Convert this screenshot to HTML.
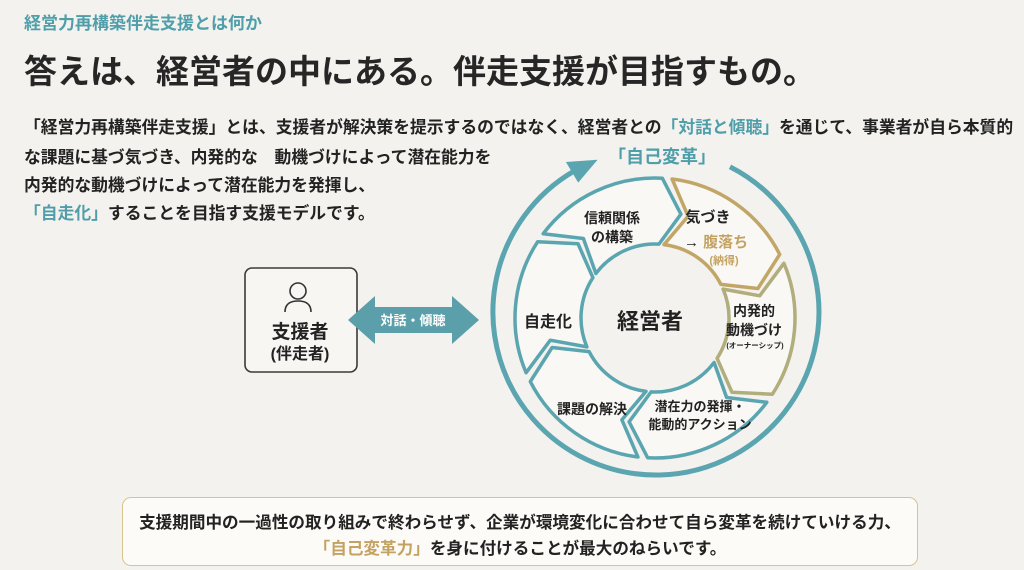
<!DOCTYPE html>
<html><head><meta charset="utf-8">
<style>
html,body{margin:0;padding:0}
body{width:1024px;height:570px;background:#f3f2ee;position:relative;overflow:hidden;font-family:"Liberation Sans","Noto Sans CJK JP",sans-serif;color:#222}
.t{position:absolute;white-space:nowrap;font-weight:bold}
.teal{color:#4f9eaa}
.gold{color:#c4a262}
</style></head><body>
<div class="t teal" style="left:24px;top:9px;font-size:17px">経営力再構築伴走支援とは何か</div>
<div class="t" style="left:24px;top:45px;font-size:33px;color:#262626">答えは、経営者の中にある。伴走支援が目指すもの。</div>
<div class="t" style="left:24px;top:114px;font-size:16.8px">「経営力再構築伴走支援」とは、支援者が解決策を提示するのではなく、経営者との<span class="teal">「対話と傾聴」</span>を通じて、事業者が自ら本質的</div>
<div class="t" style="left:24px;top:144px;font-size:16.8px">な課題に基づ気づき、内発的な　動機づけによって潜在能力を</div>
<div class="t" style="left:24px;top:172px;font-size:16.8px">内発的な動機づけによって潜在能力を発揮し、</div>
<div class="t" style="left:24px;top:200px;font-size:16.8px"><span class="teal">「自走化」</span>することを目指す支援モデルです。</div>

<svg width="1024" height="570" style="position:absolute;left:0;top:0" xmlns="http://www.w3.org/2000/svg">
<rect x="245" y="268" width="112" height="104" rx="7" fill="#f7f6f3" stroke="#3a3a3a" stroke-width="1.6"/>
<circle cx="298" cy="291" r="8" fill="none" stroke="#333" stroke-width="1.6"/>
<path d="M285 312 Q285 301 298 301 Q311 301 311 312" fill="none" stroke="#333" stroke-width="1.6"/>
<text x="300" y="338" text-anchor="middle" font-size="19" font-weight="bold" fill="#222">支援者</text>
<text x="300" y="359" text-anchor="middle" font-size="16" font-weight="bold" fill="#222">(伴走者)</text>
<polygon points="348,320 375,296 375,307 452,307 452,296 479,320 452,344 452,333 375,333 375,344" fill="#5a9fa9"/>
<text x="413" y="325" text-anchor="middle" font-size="13" font-weight="bold" fill="#fff">対話・傾聴</text>
<g id="ring"></g>
<text x="662" y="163" text-anchor="middle" font-size="18" font-weight="bold" fill="#4f9eaa">「自己変革」</text>
<text x="650" y="329" text-anchor="middle" font-size="22" font-weight="bold" fill="#222">経営者</text>
<text x="612" y="223" text-anchor="middle" font-size="14" font-weight="bold" fill="#222">信頼関係</text>
<text x="612" y="242" text-anchor="middle" font-size="14" font-weight="bold" fill="#222">の構築</text>
<text x="708" y="222" text-anchor="middle" font-size="15" font-weight="bold" fill="#222">気づき</text>
<text x="684" y="247" font-size="15" font-weight="bold" fill="#222">→ <tspan fill="#c4a262">腹落ち</tspan></text>
<text x="724" y="264" text-anchor="middle" font-size="11" font-weight="bold" fill="#c4a262">(納得)</text>
<text x="548" y="327" text-anchor="middle" font-size="16" font-weight="bold" fill="#222">自走化</text>
<text x="754" y="316" text-anchor="middle" font-size="14" font-weight="bold" fill="#222">内発的</text>
<text x="754" y="335" text-anchor="middle" font-size="14" font-weight="bold" fill="#222">動機づけ</text>
<text x="755" y="348" text-anchor="middle" font-size="7.5" font-weight="bold" fill="#222">(オーナーシップ)</text>
<text x="592" y="414" text-anchor="middle" font-size="14" font-weight="bold" fill="#222">課題の解決</text>
<text x="700" y="411" text-anchor="middle" font-size="13" font-weight="bold" fill="#222">潜在力の発揮・</text>
<text x="700" y="429" text-anchor="middle" font-size="13" font-weight="bold" fill="#222">能動的アクション</text>
</svg>
<div style="position:absolute;left:122px;top:497px;width:794px;height:67px;border:1.5px solid #d6c48f;border-radius:9px;background:#fcfbf8"></div>
<div class="t" style="left:0;width:1040px;text-align:center;top:509px;font-size:16.6px">支援期間中の一過性の取り組みで終わらせず、企業が環境変化に合わせて自ら変革を続けていける力、</div>
<div class="t" style="left:0;width:1040px;text-align:center;top:535px;font-size:16.6px"><span class="gold">「自己変革力」</span>を身に付けることが最大のねらいです。</div>
<script>
(function(){
var g=document.getElementById('ring');var ns='http://www.w3.org/2000/svg';
var cx=655,cy=318;
function P(r,a){a=a*Math.PI/180;return [cx+r*Math.sin(a),cy-r*Math.cos(a)];}
function f(p){return p[0].toFixed(1)+' '+p[1].toFixed(1);}
var R=163,ocx=656,ocy=312;
function Q(r,a){a=a*Math.PI/180;return [ocx+r*Math.sin(a),ocy-r*Math.cos(a)];}
var a1=Q(R,27),a2=Q(R,-30);
var p=document.createElementNS(ns,'path');
p.setAttribute('d','M'+f(a1)+' A'+R+' '+R+' 0 1 1 '+f(a2));
p.setAttribute('fill','none');p.setAttribute('stroke','#5ba5b0');p.setAttribute('stroke-width','5');g.appendChild(p);
var h=document.createElementNS(ns,'polygon');
h.setAttribute('points',f(Q(R,-21))+' '+f(Q(R+12,-31))+' '+f(Q(R-12,-31)));h.setAttribute('fill','#5ba5b0');g.appendChild(h);
var ri=74,ro=140,rm=107,d=11,gap=2;
var segs=[[-55,5,'#5ba5b0'],[5,65,'#c2a667'],[65,125,'#b1ad7c'],[125,185,'#5ba5b0'],[185,245,'#5ba5b0'],[245,305,'#5ba5b0']];
segs.forEach(function(s){
 var A=s[0]+gap,B=s[1]-gap;
 var dd='M'+f(P(ro,A))+' A'+ro+' '+ro+' 0 0 1 '+f(P(ro,B))+' L'+f(P(rm,B+d))+' L'+f(P(ri,B))+
 ' A'+ri+' '+ri+' 0 0 0 '+f(P(ri,A))+' L'+f(P(rm,A+d))+' Z';
 var q=document.createElementNS(ns,'path');q.setAttribute('d',dd);q.setAttribute('fill','#f9f8f5');
 q.setAttribute('stroke',s[2]);q.setAttribute('stroke-width','3.5');q.setAttribute('stroke-linejoin','round');g.appendChild(q);
});
})();
</script>
</body></html>
